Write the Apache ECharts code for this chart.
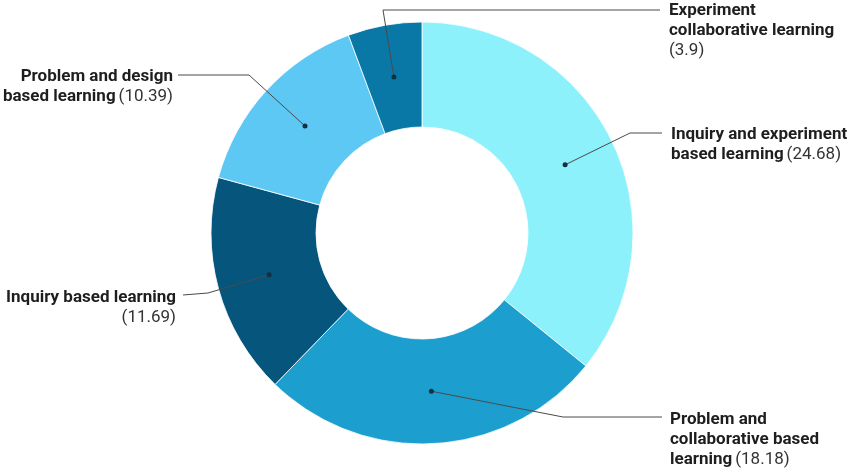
<!DOCTYPE html>
<html><head><meta charset="utf-8">
<script src="https://cdn.jsdelivr.net/npm/echarts@6/dist/echarts.min.js"></script>
<style>html,body{margin:0;padding:0;background:#fff}#c{width:851px;height:472px}</style>
</head><body><div id="c"></div>
<script>
// ---- data ----
const categories = [
  'Inquiry and experiment\nbased learning',
  'Problem and\ncollaborative based\nlearning',
  'Inquiry based learning\n',
  'Problem and design\nbased learning',
  'Experiment\ncollaborative learning\n'
];
const values = [24.68, 18.18, 11.69, 10.39, 3.9];
const valueLabels = ['24.68', '18.18', '11.69', '10.39', '3.9'];

// ---- styles / layout ----
const colors = ['#8CF1FB', '#1C9FCF', '#06557D', '#5CC8F3', '#0A78A7'];
const CENTER = [422, 233];
const R_IN = 106, R_OUT = 211;
const LINE_H = 20;
const labelSpots = [
  { elbow: [630, 133], end: [662, 133], side: 'right', gap: 9, dy: 2 },
  { elbow: [563, 417], end: [662, 417], side: 'right', gap: 8, dy: 3 },
  { elbow: [208, 293], end: [183, 295], side: 'left', gap: 7, dy: 3 },
  { elbow: [249, 75], end: [178, 75], side: 'left', gap: 5, dy: 2 },
  { elbow: [383, 10], end: [660, 10], side: 'right', gap: 9, dy: 1 }
];

const total = values.reduce((a, b) => a + b, 0);
const mids = [];
let acc = 0;
values.forEach(v => { mids.push(acc + v / 2); acc += v; });
const dotRadius = (R_IN + R_OUT) / 2 / R_OUT;

const chart = echarts.init(document.getElementById('c'), null, { renderer: 'canvas' });

function fmt(p) {
  const lines = categories[p.dataIndex].split('\n');
  const last = lines.length - 1;
  return lines.map((l, i) => {
    if (i === last) {
      const v = '{v|(' + valueLabels[p.dataIndex] + ')}';
      return l ? '{b|' + l + '} ' + v : v;
    }
    return '{b|' + l + '}';
  }).join('\n');
}

chart.setOption({
  animation: false,
  backgroundColor: '#fff',
  polar: { center: CENTER, radius: R_OUT },
  angleAxis: {
    type: 'value', min: 0, max: total, startAngle: 90, clockwise: true,
    show: false, axisLine: { show: false }, splitLine: { show: false }, axisLabel: { show: false }, axisTick: { show: false }
  },
  radiusAxis: {
    type: 'value', min: 0, max: 1, show: false,
    axisLine: { show: false }, splitLine: { show: false }, axisLabel: { show: false }, axisTick: { show: false }
  },
  series: [
    {
      type: 'pie',
      center: CENTER,
      radius: [R_IN, R_OUT],
      startAngle: 90,
      clockwise: true,
      avoidLabelOverlap: false,
      z: 2,
      data: values.map((v, i) => ({ name: categories[i], value: v, itemStyle: { color: colors[i] } })),
      itemStyle: { borderColor: 'rgba(255,255,255,0.8)', borderWidth: 1 },
      label: {
        show: true,
        formatter: fmt,
        fontFamily: 'Roboto',
        rich: {
          b: { fontFamily: 'Roboto', fontSize: 17, fontWeight: 'bold', color: '#1e1e1e', lineHeight: LINE_H },
          v: { fontFamily: 'Roboto', fontSize: 17, fontWeight: 'normal', color: '#333', lineHeight: LINE_H }
        }
      },
      labelLine: { show: false },
      emphasis: { disabled: true },
      labelLayout: function (params) {
        const s = labelSpots[params.dataIndex];
        const right = s.side === 'right';
        return {
          x: right ? s.end[0] + s.gap : s.end[0] - s.gap,
          y: s.end[1] - LINE_H / 2 + s.dy,
          align: right ? 'left' : 'right',
          verticalAlign: 'top',
          hideOverlap: false
        };
      }
    },
    {
      type: 'custom',
      coordinateSystem: 'polar',
      silent: true,
      z: 10,
      data: mids.map(m => [dotRadius, m]),
      renderItem: function (params, api) {
        const s = labelSpots[params.dataIndex];
        const p = api.coord([api.value(0), api.value(1)]);
        return {
          type: 'group',
          children: [
            { type: 'polyline', shape: { points: [p, s.elbow, s.end] }, style: { stroke: '#4a4a4a', lineWidth: 1, fill: null } },
            { type: 'circle', shape: { cx: p[0], cy: p[1], r: 2.5 }, style: { fill: '#12303F' } }
          ]
        };
      }
    }
  ]
});
</script>
</body></html>
